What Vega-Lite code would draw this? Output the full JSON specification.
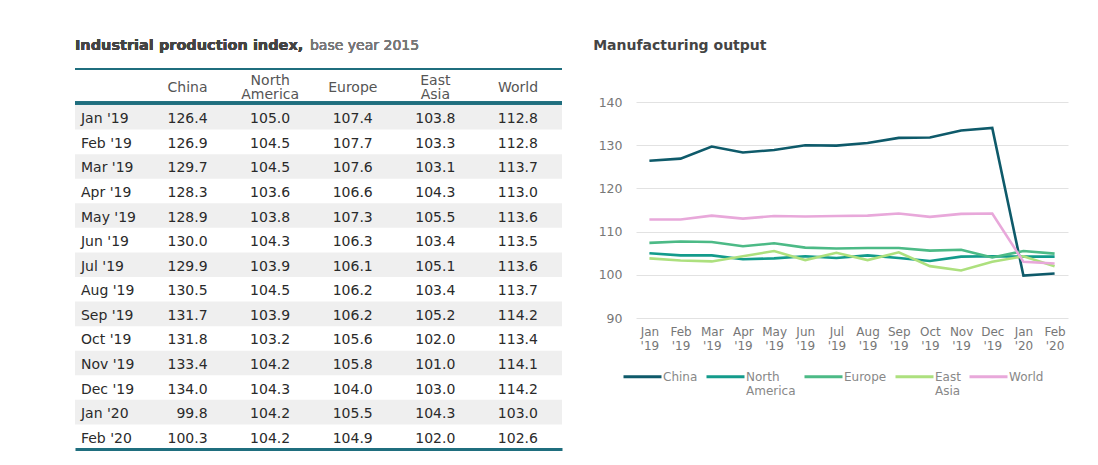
{
  "$schema": "https://vega.github.io/schema/vega-lite/v6.json",
  "background": "white",
  "padding": {"left": 73, "top": 37, "right": 10, "bottom": 5},
  "config": {"view": {"stroke": null}, "font": "DejaVu Sans"},
  "datasets": {
    "ipi": [
      {"month": "Jan '19", "China": 126.4, "North America": 105.0, "Europe": 107.4, "East Asia": 103.8, "World": 112.8},
      {"month": "Feb '19", "China": 126.9, "North America": 104.5, "Europe": 107.7, "East Asia": 103.3, "World": 112.8},
      {"month": "Mar '19", "China": 129.7, "North America": 104.5, "Europe": 107.6, "East Asia": 103.1, "World": 113.7},
      {"month": "Apr '19", "China": 128.3, "North America": 103.6, "Europe": 106.6, "East Asia": 104.3, "World": 113.0},
      {"month": "May '19", "China": 128.9, "North America": 103.8, "Europe": 107.3, "East Asia": 105.5, "World": 113.6},
      {"month": "Jun '19", "China": 130.0, "North America": 104.3, "Europe": 106.3, "East Asia": 103.4, "World": 113.5},
      {"month": "Jul '19", "China": 129.9, "North America": 103.9, "Europe": 106.1, "East Asia": 105.1, "World": 113.6},
      {"month": "Aug '19", "China": 130.5, "North America": 104.5, "Europe": 106.2, "East Asia": 103.4, "World": 113.7},
      {"month": "Sep '19", "China": 131.7, "North America": 103.9, "Europe": 106.2, "East Asia": 105.2, "World": 114.2},
      {"month": "Oct '19", "China": 131.8, "North America": 103.2, "Europe": 105.6, "East Asia": 102.0, "World": 113.4},
      {"month": "Nov '19", "China": 133.4, "North America": 104.2, "Europe": 105.8, "East Asia": 101.0, "World": 114.1},
      {"month": "Dec '19", "China": 134.0, "North America": 104.3, "Europe": 104.0, "East Asia": 103.0, "World": 114.2},
      {"month": "Jan '20", "China": 99.8, "North America": 104.2, "Europe": 105.5, "East Asia": 104.3, "World": 103.0},
      {"month": "Feb '20", "China": 100.3, "North America": 104.2, "Europe": 104.9, "East Asia": 102.0, "World": 102.6}
    ],
    "cols": [
      {"col": "China"}, {"col": "North America"}, {"col": "Europe"}, {"col": "East Asia"}, {"col": "World"}
    ]
  },
  "spacing": 29,
  "resolve": {"scale": {"color": "independent"}, "legend": {"color": "independent"}},
  "hconcat": [
    {
      "spacing": 0,
      "vconcat": [
        {
          "width": 487,
          "height": 34,
          "data": {"name": "cols"},
          "layer": [
            {
              "mark": {"type": "rule", "color": "#1f6e7e", "strokeWidth": 2},
              "encoding": {"y": {"datum": 1, "type": "quantitative", "scale": {"domain": [0, 1], "nice": false, "zero": false}, "axis": null}}
            },
            {
              "mark": {"type": "rule", "color": "#1f6e7e", "strokeWidth": 3},
              "encoding": {"y": {"datum": 0, "type": "quantitative"}}
            },
            {
              "transform": [{"filter": {"field": "col", "oneOf": ["China", "Europe", "World"]}}],
              "mark": {"type": "text", "fontSize": 14, "color": "#555", "baseline": "middle"},
              "encoding": {
                "x": {"field": "col", "type": "nominal", "scale": {"type": "point", "domain": ["Month", "China", "North America", "Europe", "East Asia", "World"], "padding": 0.448, "align": 0.405}, "axis": null},
                "y": {"datum": 0.44, "type": "quantitative"},
                "text": {"field": "col"}
              }
            },
            {
              "transform": [{"filter": {"field": "col", "oneOf": ["North America", "East Asia"]}}],
              "mark": {"type": "text", "fontSize": 14, "lineBreak": " ", "lineHeight": 14, "dy": -7, "color": "#555", "baseline": "middle"},
              "encoding": {
                "x": {"field": "col", "type": "nominal"},
                "y": {"datum": 0.44, "type": "quantitative"},
                "text": {"field": "col"}
              }
            },
            {
              "mark": {"type": "text", "fontSize": 14.5, "fontWeight": "bold", "align": "left", "baseline": "middle", "dx": -30, "color": "#444"},
              "encoding": {
                "x": {"datum": "Month"},
                "y": {"datum": 1.68, "type": "quantitative"},
                "text": {"value": "Industrial production index,"}
              }
            },
            {
              "mark": {"type": "text", "fontSize": 14, "align": "left", "baseline": "middle", "dx": 205, "color": "#777"},
              "encoding": {
                "x": {"datum": "Month"},
                "y": {"datum": 1.68, "type": "quantitative"},
                "text": {"value": "base year 2015"}
              }
            }
          ]
        },
        {
          "width": 487,
          "height": 344,
          "data": {"name": "ipi"},
          "transform": [{"fold": ["China", "North America", "Europe", "East Asia", "World"], "as": ["region", "value"]}],
          "encoding": {
            "y": {"field": "month", "type": "ordinal", "scale": {"type": "band", "domain": ["Jan '19", "Feb '19", "Mar '19", "Apr '19", "May '19", "Jun '19", "Jul '19", "Aug '19", "Sep '19", "Oct '19", "Nov '19", "Dec '19", "Jan '20", "Feb '20"], "paddingInner": 0, "paddingOuter": 0}, "axis": null}
          },
          "layer": [
            {
              "transform": [
                {"filter": {"field": "region", "equal": "China"}},
                {"filter": {"field": "month", "oneOf": ["Jan '19", "Mar '19", "May '19", "Jul '19", "Sep '19", "Nov '19", "Jan '20"]}}
              ],
              "mark": {"type": "rect", "color": "#efefef"}
            },
            {
              "mark": {"type": "text", "fontSize": 14, "align": "right", "baseline": "middle", "dx": 20, "dy": 2, "color": "#2a2a2a"},
              "encoding": {
                "x": {"field": "region", "type": "nominal", "scale": {"type": "point", "domain": ["Month", "China", "North America", "Europe", "East Asia", "World"], "padding": 0.448, "align": 0.405}, "axis": {"orient": "bottom", "labels": false, "ticks": false, "grid": false, "title": null, "domain": true, "domainColor": "#1f6e7e", "domainWidth": 3}},
                "text": {"field": "value", "type": "quantitative", "format": ".1f"}
              }
            },
            {
              "transform": [{"filter": {"field": "region", "equal": "China"}}],
              "mark": {"type": "text", "fontSize": 14, "align": "left", "baseline": "middle", "dx": -24, "dy": 2, "color": "#2a2a2a"},
              "encoding": {
                "x": {"datum": "Month"},
                "text": {"field": "month"}
              }
            }
          ]
        }
      ]
    },
    {
      "width": 432,
      "height": 249,
      "title": {"text": "Manufacturing output", "anchor": "start", "fontSize": 14, "fontWeight": "bold", "color": "#444", "offset": 16, "dx": -5},
      "data": {"name": "ipi"},
      "transform": [{"fold": ["China", "North America", "Europe", "East Asia", "World"], "as": ["region", "value"]}],
      "mark": {"type": "line", "strokeWidth": 2.6},
      "encoding": {
        "x": {
          "field": "month", "type": "ordinal",
          "scale": {"type": "point", "padding": 0.43, "domain": ["Jan '19", "Feb '19", "Mar '19", "Apr '19", "May '19", "Jun '19", "Jul '19", "Aug '19", "Sep '19", "Oct '19", "Nov '19", "Dec '19", "Jan '20", "Feb '20"]},
          "axis": {"title": null, "labelExpr": "split(datum.label, ' ')", "labelAngle": 0, "domain": false, "ticks": false, "labelColor": "#777", "labelFontSize": 12, "labelPadding": 8, "labelLineHeight": 14}
        },
        "y": {
          "field": "value", "type": "quantitative",
          "scale": {"domain": [90, 147.64], "nice": false, "zero": false},
          "axis": {"title": null, "values": [90, 100, 110, 120, 130, 140], "domain": false, "ticks": false, "gridColor": "#e2e2e2", "labelColor": "#777", "labelFontSize": 12.5, "labelPadding": 14}
        },
        "color": {
          "field": "region", "type": "nominal",
          "scale": {"domain": ["China", "North America", "Europe", "East Asia", "World"], "range": ["#0e5a6a", "#139b8b", "#4cba86", "#ade07e", "#e8a8da"]},
          "legend": {"orient": "none", "legendX": -14, "legendY": 287, "direction": "horizontal", "title": null, "symbolType": "stroke", "symbolSize": 1444, "symbolStrokeWidth": 3, "labelExpr": "[split(datum.label, ' ')[0], split(datum.label, ' ')[1] || '\u00a0']", "labelFontSize": 12, "labelLineHeight": 14, "labelColor": "#888", "labelBaseline": "middle", "columnPadding": 2, "labelOffset": 0}
        },
        "strokeWidth": {"condition": {"test": "datum.region === 'China'", "value": 3.2}, "value": 2.5}
      }
    }
  ]
}
